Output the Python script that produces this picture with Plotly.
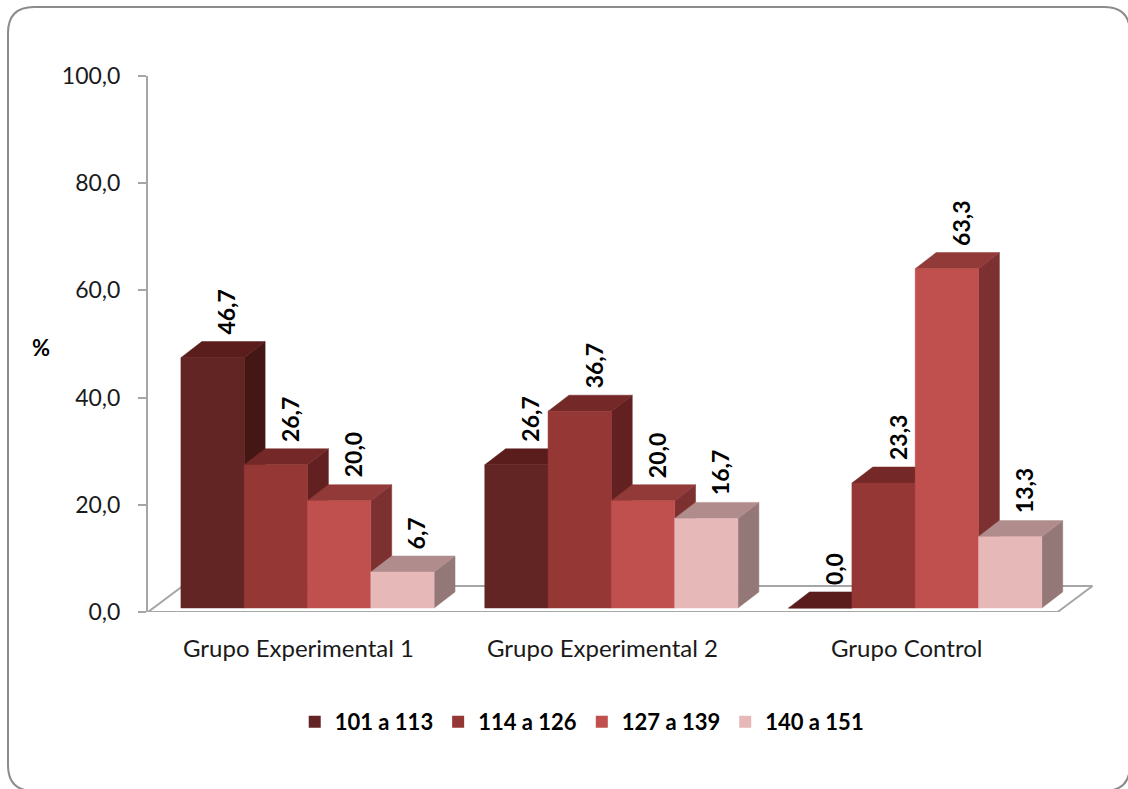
import plotly.graph_objects as go

# ---- data ----
categories = ["Grupo Experimental 1", "Grupo Experimental 2", "Grupo Control"]
series_names = ["101 a 113", "114 a 126", "127 a 139", "140 a 151"]
serie_101_113 = [46.7, 26.7, 0.0]
serie_114_126 = [26.7, 36.7, 23.3]
serie_127_139 = [20.0, 20.0, 63.3]
serie_140_151 = [6.7, 16.7, 13.3]
y_ticks = [0, 20, 40, 60, 80, 100]

series_values = [serie_101_113, serie_114_126, serie_127_139, serie_140_151]

# ---- styling ----
FONT = "Lato"
front_colors = ["#632523", "#953735", "#C0504D", "#E6B9B8"]
top_colors = ["#5A1D1C", "#742827", "#913A38", "#B08C8C"]
side_colors = ["#441614", "#622120", "#7C302F", "#947878"]

# pseudo-3D geometry (x in bar widths, y in axis units)
GROUP_STEP = 4.8      # distance between group starts
BAR_W = 1.0
DEPTH_DX, DEPTH_DY = 0.33, 3.0
BASE = 0.75           # bars stand slightly behind the floor's front edge
FLOOR_PAD_L, FLOOR_PAD_R = 0.52, 0.25
FLOOR_DX, FLOOR_DY = 0.55, 4.85
X_RANGE = [-0.52, 14.44]

fig = go.Figure()

# floor
n_groups = len(categories)
fx0 = -FLOOR_PAD_L
fx1 = (n_groups - 1) * GROUP_STEP + len(series_names) * BAR_W + FLOOR_PAD_R
fig.add_trace(go.Scatter(
    x=[fx0, fx1, fx1 + FLOOR_DX, fx0 + FLOOR_DX, fx0],
    y=[0, 0, FLOOR_DY, FLOOR_DY, 0],
    mode="lines", fill="toself", fillcolor="white",
    line=dict(color="#A6A6A6", width=2),
    showlegend=False, hoverinfo="skip"))


def poly_trace(polys, color):
    xs, ys = [], []
    for p in polys:
        xs += [pt[0] for pt in p] + [p[0][0], None]
        ys += [pt[1] for pt in p] + [p[0][1], None]
    return go.Scatter(x=xs, y=ys, mode="lines", fill="toself",
                      fillcolor=color, line=dict(color=color, width=0.5),
                      showlegend=False, hoverinfo="skip")


annotations = []
for s, vals in enumerate(series_values):
    fronts, tops, sides = [], [], []
    for g, v in enumerate(vals):
        x0 = g * GROUP_STEP + s * BAR_W
        x1 = x0 + BAR_W
        y0 = BASE
        y1 = BASE + v
        fronts.append([(x0, y0), (x1, y0), (x1, y1), (x0, y1)])
        tops.append([(x0, y1), (x1, y1), (x1 + DEPTH_DX, y1 + DEPTH_DY),
                     (x0 + DEPTH_DX, y1 + DEPTH_DY)])
        sides.append([(x1, y0), (x1 + DEPTH_DX, y0 + DEPTH_DY),
                      (x1 + DEPTH_DX, y1 + DEPTH_DY), (x1, y1)])
        annotations.append(dict(
            x=x0 + BAR_W / 2 + 0.22, y=y1 + DEPTH_DY, xref="x", yref="y",
            text=f"{v:.1f}".replace(".", ","), showarrow=False,
            textangle=-90, xanchor="center", yanchor="bottom", yshift=5,
            font=dict(family=FONT, size=23, color="#000000", weight="bold")))
    fig.add_trace(poly_trace(sides, side_colors[s]))
    fig.add_trace(poly_trace(tops, top_colors[s]))
    fig.add_trace(poly_trace(fronts, front_colors[s]))

# legend entries
for s, name in enumerate(series_names):
    fig.add_trace(go.Scatter(
        x=[None], y=[None], mode="markers", name=name,
        marker=dict(symbol="square", size=13, color=front_colors[s])))

# category labels
for g, cat in enumerate(categories):
    annotations.append(dict(
        x=g * GROUP_STEP + len(series_names) * BAR_W / 2 - 0.14, y=0,
        xref="x", yref="paper", text=cat, showarrow=False,
        xanchor="center", yanchor="middle", yshift=-35,
        font=dict(family=FONT, size=24, color="#1a1a1a")))

# axis title
annotations.append(dict(
    x=0, y=49.4, xref="paper", yref="y", text="%", showarrow=False,
    xanchor="center", yanchor="middle", xshift=-107,
    font=dict(family=FONT, size=22, color="#000000", weight="bold")))

# rounded chart border (paper coordinates)
W, H = 1128, 789
ML, MR, MT, MB = 148, 33, 76, 177
pw, ph = W - ML - MR, H - MT - MB


def px(xp):
    return (xp - ML) / pw


def py(yp):
    return (H - MB - yp) / ph


bl, bt, br, bb, r = 8, 7, 1130, 791, 26
path = (
    f"M {px(bl + r)},{py(bt)} L {px(br - r)},{py(bt)} "
    f"Q {px(br)},{py(bt)} {px(br)},{py(bt + r)} "
    f"L {px(br)},{py(bb - r)} Q {px(br)},{py(bb)} {px(br - r)},{py(bb)} "
    f"L {px(bl + r)},{py(bb)} Q {px(bl)},{py(bb)} {px(bl)},{py(bb - r)} "
    f"L {px(bl)},{py(bt + r)} Q {px(bl)},{py(bt)} {px(bl + r)},{py(bt)} Z"
)

fig.update_layout(
    width=W, height=H,
    margin=dict(l=ML, r=MR, t=MT, b=MB),
    paper_bgcolor="white", plot_bgcolor="white",
    separators=",.",
    showlegend=True,
    legend=dict(orientation="h", x=0.458, xanchor="center", y=-0.205,
                yanchor="middle", font=dict(family=FONT, size=22,
                                            color="#000000", weight="bold"),
                itemsizing="constant", traceorder="normal"),
    xaxis=dict(range=X_RANGE, visible=False, fixedrange=True),
    yaxis=dict(range=[0, 100], tickvals=y_ticks, tickformat=".1f",
               showgrid=False, zeroline=False, showline=True,
               linecolor="#A6A6A6", linewidth=2, ticks="outside",
               ticklen=8, tickwidth=2, tickcolor="#A6A6A6",
               ticklabelstandoff=13,
               tickfont=dict(family=FONT, size=23, color="#1a1a1a")),
    annotations=annotations,
    shapes=[dict(type="path", path=path, xref="paper", yref="paper",
                 line=dict(color="#8C8C8C", width=2), layer="above")],
)

fig.write_html("out.html")
